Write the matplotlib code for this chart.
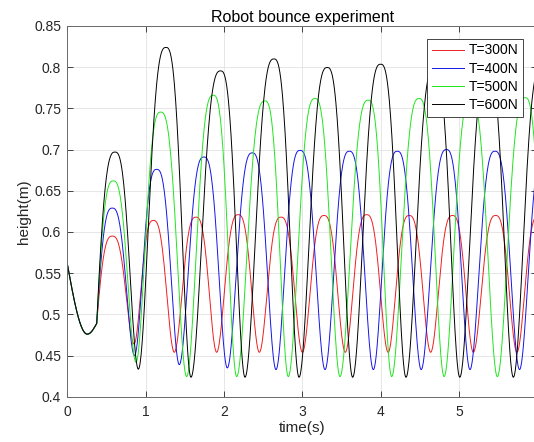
import numpy as np
import matplotlib
matplotlib.use("Agg")
import matplotlib.pyplot as plt

plt.rcParams["font.family"] = ["Liberation Sans", "DejaVu Sans"]

# Shared drop phase before the thrust starts: start, lowest point, thrust onset
launch_t = [0.0, 0.253, 0.373]
launch_h = [0.560, 0.476, 0.489]

labels = ["T=300N", "T=400N", "T=500N", "T=600N"]
colors = ["#f01e1e", "#1414e6", "#1ee61e", "#000000"]

# Apex / touchdown extrema of each run (time in s, height in m)
t300 = [0.572, 0.850, 1.096, 1.364, 1.641, 1.905, 2.180, 2.450, 2.727, 3.000,
        3.276, 3.548, 3.820, 4.095, 4.364, 4.638, 4.917, 5.183, 5.468, 5.740, 6.015]
h300 = [0.595, 0.464, 0.614, 0.454, 0.618, 0.454, 0.621, 0.454, 0.618, 0.454,
        0.620, 0.454, 0.621, 0.454, 0.620, 0.454, 0.620, 0.454, 0.620, 0.454, 0.620]

t400 = [0.572, 0.856, 1.139, 1.428, 1.743, 2.041, 2.360, 2.663, 2.970, 3.289,
        3.600, 3.906, 4.212, 4.517, 4.840, 5.140, 5.460, 5.773, 6.085]
h400 = [0.629, 0.450, 0.676, 0.439, 0.691, 0.435, 0.696, 0.433, 0.699, 0.433,
        0.698, 0.433, 0.698, 0.433, 0.700, 0.433, 0.698, 0.433, 0.698]

t500 = [0.585, 0.875, 1.190, 1.522, 1.862, 2.161, 2.522, 2.820, 3.161, 3.480,
        3.842, 4.140, 4.490, 4.810, 5.150, 5.490, 5.845, 6.150]
h500 = [0.662, 0.442, 0.7455, 0.4245, 0.766, 0.4245, 0.759, 0.4245, 0.762, 0.4245,
        0.760, 0.4245, 0.762, 0.4245, 0.762, 0.4245, 0.763, 0.4245]

t600 = [0.607, 0.905, 1.258, 1.577, 1.956, 2.267, 2.637, 2.957, 3.318, 3.642,
        4.000, 4.323, 4.685, 5.010, 5.370, 5.694, 6.050]
h600 = [0.697, 0.4335, 0.824, 0.4237, 0.7955, 0.4237, 0.810, 0.4237, 0.7996, 0.4237,
        0.8036, 0.4237, 0.800, 0.4237, 0.800, 0.4237, 0.800]

runs = [(t300, h300), (t400, h400), (t500, h500), (t600, h600)]


def bounce_curve(ext_t, ext_h, n=60, p=1.4):
    """Smooth trajectory through the launch points and the apex/touchdown extrema."""
    t0, tm, tk = launch_t
    h0, hm, hk = launch_h
    s = np.linspace(0.0, 1.0, n)
    ts, hs = [], []
    # falling to the lowest point
    ts.append(t0 + (tm - t0) * s)
    hs.append(hm + (h0 - hm) * (1 - np.sin(np.pi / 2 * s)))
    # slow rise until thrust onset
    ts.append(tm + (tk - tm) * s[1:])
    hs.append(hm + (hk - hm) * (1 - np.cos(np.pi / 2 * s[1:])))
    # thrust: steep rise to the first apex
    u = 1 - s[1:]
    ts.append(tk + (ext_t[0] - tk) * s[1:])
    hs.append(ext_h[0] - (ext_h[0] - hk) * (1 - np.cos(np.pi / 2 * u ** p)))
    # flight / stance cycles between consecutive extrema
    for i in range(len(ext_t) - 1):
        ta, tb = ext_t[i], ext_t[i + 1]
        ha, hb = ext_h[i], ext_h[i + 1]
        hp, ht = max(ha, hb), min(ha, hb)
        u = s[1:] if ha > hb else 1 - s[1:]
        ts.append(ta + (tb - ta) * s[1:])
        hs.append(hp + (ht - hp) * (1 - np.cos(np.pi * u ** p)) / 2)
    return np.concatenate(ts), np.concatenate(hs)


fig = plt.figure(figsize=(5.34, 4.42), dpi=100)
ax = fig.add_axes([0.1264, 0.1023, 0.8798, 0.8389])

for (et, eh), lab, col in zip(runs, labels, colors):
    x, y = bounce_curve(et, eh)
    ax.plot(x, y, color=col, lw=0.7, label=lab)

ax.set_xlim(0, 6)
ax.set_ylim(0.4, 0.85)
ax.set_xticks(np.arange(0, 7))
ax.set_xticklabels([f"{v:g}" for v in range(0, 7)])
yt = np.round(np.arange(0.4, 0.851, 0.05), 2)
ax.set_yticks(yt)
ax.set_yticklabels([f"{v:g}" for v in yt])

ax.grid(True, color="#e2e2e2", lw=0.6)
ax.set_axisbelow(True)
ax.tick_params(direction="in", top=True, right=True, length=4, width=0.6,
               colors="#262626", labelsize=10)
ax.tick_params(axis="x", pad=6)
ax.tick_params(axis="y", pad=4.5)
for sp in ax.spines.values():
    sp.set_color("#6a6a6a")
    sp.set_linewidth(0.7)

ax.set_xlabel("time(s)", fontsize=11, color="#262626", labelpad=1)
ax.set_ylabel("height(m)", fontsize=11, color="#262626", labelpad=2)
ax.set_title("Robot bounce experiment", fontsize=11.5, color="black", pad=3)

leg = ax.legend(loc="upper right", bbox_to_anchor=(0.9702, 0.9662), borderaxespad=0,
                fontsize=10, handlelength=2.3, handletextpad=0.35, labelspacing=0.3,
                borderpad=0.35, fancybox=False, framealpha=1)
leg.get_frame().set_edgecolor("#262626")
leg.get_frame().set_linewidth(0.6)

fig.savefig("out.png", dpi=100)
